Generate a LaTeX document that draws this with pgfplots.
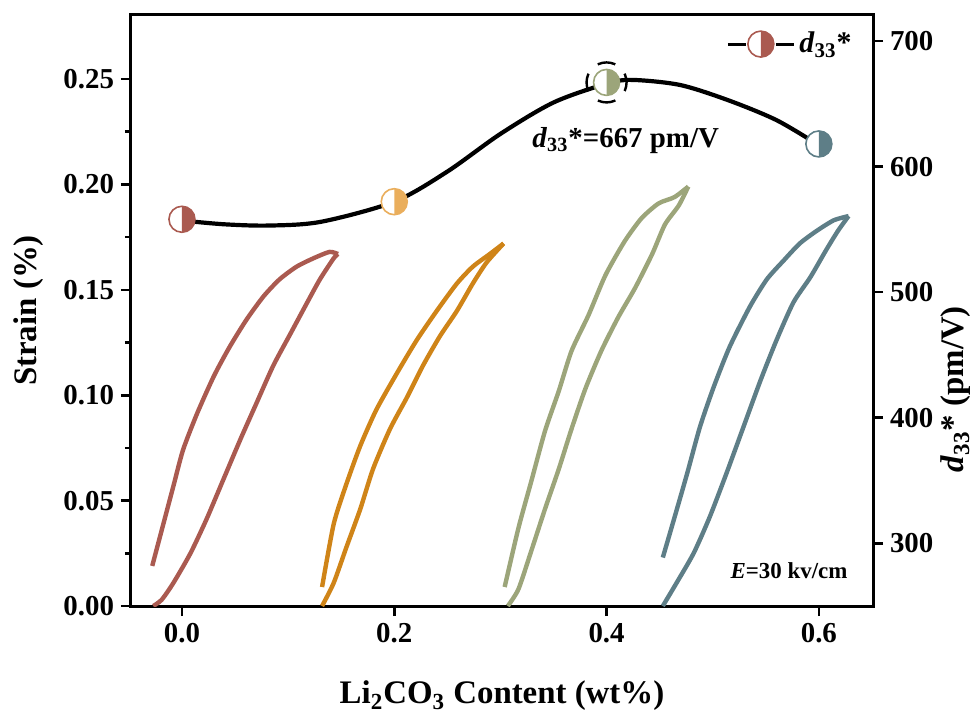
\documentclass[border=0pt]{standalone}
\usepackage{fontspec}
\setmainfont{Liberation Serif}
\usepackage{pgfplots}
\pgfplotsset{compat=1.18}
\usetikzlibrary{calc}

\definecolor{cA}{HTML}{AA5A50}
\definecolor{cB}{HTML}{CF8418}
\definecolor{cBm}{HTML}{EAAE5C}
\definecolor{cC}{HTML}{9CA57A}
\definecolor{cD}{HTML}{5E7E87}

% circle, left half white, right half in fill colour
\pgfdeclareplotmark{halfright}{%
  \begin{pgfscope}
    \pgfsetfillcolor{white}%
    \pgfpathcircle{\pgfpointorigin}{\pgfplotmarksize}%
    \pgfusepathqfill
  \end{pgfscope}
  \pgfpathmoveto{\pgfqpoint{0pt}{\pgfplotmarksize}}%
  \pgfpatharc{90}{-90}{\pgfplotmarksize}%
  \pgfpathclose
  \pgfusepathqfill
  \pgfpathcircle{\pgfpointorigin}{\pgfplotmarksize}%
  \pgfusepathqstroke
}

\pgfplotsset{
  common/.style={
    width=371bp, height=295.5bp, scale only axis,
    xmin=-0.048, xmax=0.651,
    tick align=outside,
    major tick length=5bp, minor tick length=3bp,
    axis line style={line width=1.5bp},
    every tick/.style={black, line width=1.3bp},
    ticklabel style={font=\bfseries\fontsize{14.5}{16}\selectfont},
    /pgf/number format/assume math mode=true,
  },
}

\begin{document}
\begin{tikzpicture}
\begin{axis}[
  common, name=main,
  ymin=0, ymax=0.2804,
  xtick={0,0.2,0.4,0.6},
  ytick={0,0.05,0.10,0.15,0.20,0.25},
  minor y tick num=1,
  xtick pos=bottom, ytick pos=left,
  xticklabel style={/pgf/number format/.cd, fixed, fixed zerofill, precision=1, /tikz/.cd},
  yticklabel style={/pgf/number format/.cd, fixed, fixed zerofill, precision=2, /tikz/.cd},
  xlabel={Li\textsubscript{2}CO\textsubscript{3} Content (wt\%)},
  ylabel={Strain (\%)},
  label style={font=\bfseries\fontsize{16.5}{18}\selectfont},
  xlabel style={at={(rel axis cs:0.5,0)}, anchor=center, yshift=-45bp},
  ylabel style={at={(rel axis cs:0,0.5)}, anchor=center, yshift=51bp},
  every axis plot/.append style={line width=2.2bp, line join=round, no marks, smooth, tension=0.4},
]
% Li2CO3 0.0
\addplot[cA] coordinates {
(-0.027,0.000) (-0.019,0.003) (-0.008,0.011) (0.008,0.025) (0.023,0.041) (0.039,0.060)
(0.055,0.079) (0.070,0.096) (0.086,0.114) (0.102,0.129) (0.118,0.144) (0.130,0.155)
(0.143,0.165) (0.147,0.167)
};
\addplot[cA] coordinates {
(0.147,0.167) (0.139,0.168) (0.124,0.165) (0.108,0.161) (0.092,0.155)
(0.077,0.147) (0.061,0.136) (0.045,0.123) (0.030,0.109) (0.014,0.091) (0.001,0.074)
(-0.008,0.057) (-0.018,0.038) (-0.028,0.019)
};
% Li2CO3 0.2
\addplot[cB] coordinates {
(0.132,0.000) (0.143,0.011) (0.155,0.028) (0.168,0.046) (0.180,0.065) (0.196,0.084)
(0.212,0.099) (0.227,0.114) (0.243,0.128) (0.259,0.140) (0.274,0.153) (0.287,0.163)
(0.303,0.172)
};
\addplot[cB] coordinates {
(0.303,0.172) (0.290,0.167) (0.274,0.161) (0.259,0.153) (0.240,0.140) (0.221,0.126)
(0.202,0.110) (0.183,0.093) (0.168,0.076) (0.155,0.058) (0.143,0.039) (0.132,0.009)
};
% Li2CO3 0.4
\addplot[cC] coordinates {
(0.307,0.000) (0.317,0.008) (0.329,0.026) (0.342,0.046) (0.355,0.065) (0.367,0.084)
(0.380,0.103) (0.395,0.121) (0.411,0.137) (0.427,0.151) (0.443,0.167) (0.455,0.181)
(0.468,0.190) (0.477,0.199)
};
\addplot[cC] coordinates {
(0.477,0.199) (0.464,0.194) (0.449,0.191) (0.433,0.184) (0.417,0.173)
(0.399,0.157) (0.383,0.138) (0.367,0.121) (0.355,0.102) (0.342,0.083) (0.329,0.059)
(0.317,0.037) (0.304,0.009)
};
% Li2CO3 0.6
\addplot[cD] coordinates {
(0.453,0.000) (0.466,0.011) (0.482,0.025) (0.497,0.042) (0.513,0.063) (0.529,0.085)
(0.545,0.107) (0.560,0.126) (0.576,0.144) (0.592,0.156) (0.607,0.169) (0.618,0.178)
(0.628,0.185)
};
\addplot[cD] coordinates {
(0.628,0.185) (0.614,0.183) (0.598,0.178) (0.582,0.172) (0.567,0.164) (0.551,0.155)
(0.535,0.142) (0.516,0.123) (0.501,0.104) (0.488,0.085) (0.476,0.063) (0.464,0.042)
(0.453,0.023)
};
\node[anchor=south east, font=\bfseries\fontsize{11.5}{13}\selectfont]
  at (rel axis cs:0.975,0.035) {\textit{E}=30 kv/cm};
\end{axis}

\begin{axis}[
  common,
  ymin=250, ymax=720.7,
  axis y line*=right, axis x line=none,
  ytick={300,400,500,600,700},
  ylabel={\textit{d}\textsubscript{33}* (pm/V)},
  ylabel style={at={(rel axis cs:1,0.367)}, anchor=center, yshift=-41.5bp,
    font=\bfseries\fontsize{16.5}{18}\selectfont},
  legend style={draw=none, fill=none, at={(rel axis cs:0.985,0.985)}, anchor=north east,
    font=\bfseries\fontsize{15}{17}\selectfont},
  legend image code/.code={%
    \draw[#1] (0bp,0bp) -- (9bp,0bp);
    \draw[#1] (24bp,0bp) -- (33bp,0bp);
    \draw[#1, draw=none] plot coordinates {(16.5bp,0bp)};},
]
\addplot[black, line width=2.1bp, smooth, forget plot] coordinates {
(0,557) (0.04,554) (0.082,553) (0.131,556) (0.2,572) (0.25,596) (0.3,626)
(0.35,651) (0.4,666) (0.424,669) (0.469,665) (0.514,653) (0.56,637) (0.6,617)
};
\addplot[only marks, mark=o, mark size=10bp, forget plot,
  mark options={black, line width=1.2bp, dash pattern=on 9bp off 6.7bp, dash phase=4.5bp}]
  coordinates {(0.4,667)};
\addplot[only marks, mark=halfright, mark size=6.5bp, forget plot,
  mark options={draw=cA, fill=cA, line width=0.8bp}] coordinates {(0,558)};
\addplot[only marks, mark=halfright, mark size=6.5bp, forget plot,
  mark options={draw=cBm, fill=cBm, line width=0.8bp}] coordinates {(0.2,572)};
\addplot[only marks, mark=halfright, mark size=6.5bp, forget plot,
  mark options={draw=cC, fill=cC, line width=0.8bp}] coordinates {(0.4,667)};
\addplot[only marks, mark=halfright, mark size=6.5bp, forget plot,
  mark options={draw=cD, fill=cD, line width=0.8bp}] coordinates {(0.6,618)};
\addlegendimage{black, line width=1.5bp, mark=halfright, mark size=6.5bp,
  mark options={draw=cA, fill=cA, line width=0.8bp, solid}}
\addlegendentry{\textit{d}\textsubscript{33}*}
\node[font=\bfseries\fontsize{14.5}{16}\selectfont] at (axis cs:0.418,621)
  {\textit{d}\textsubscript{33}*=667 pm/V};
\end{axis}

\pgfresetboundingbox
\path[use as bounding box] ($(main.south west)+(-65.5bp,-57bp)$) rectangle ($(main.north east)+(50.5bp,7.5bp)$);
\end{tikzpicture}
\end{document}
